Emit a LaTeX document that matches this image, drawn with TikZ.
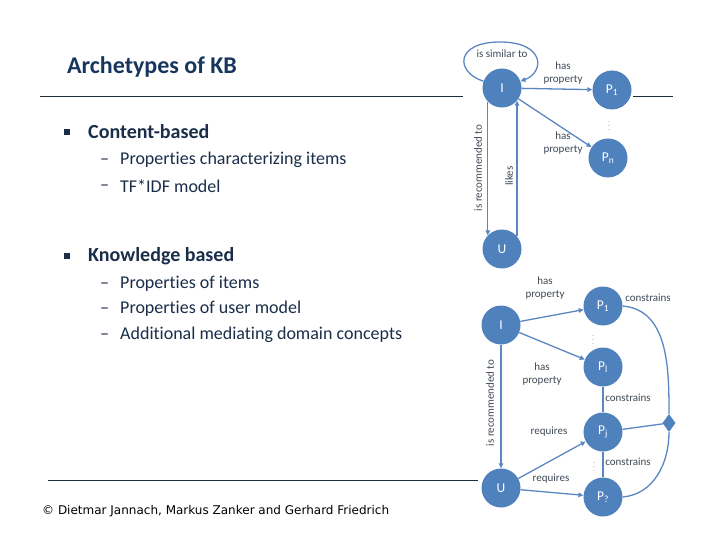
\documentclass[tikz,border=0pt]{standalone}
\usepackage{fontspec}
\setmainfont{Carlito}[Ligatures=NoCommon]
\newfontfamily\footfont{DejaVu Sans}
\usetikzlibrary{arrows.meta,positioning,shapes.geometric}
\definecolor{nodeblue}{HTML}{4F81BD}
\definecolor{edgeblue}{HTML}{5A87C2}
\definecolor{titlenavy}{HTML}{17365D}
\definecolor{textnavy}{HTML}{1A2E4A}
\definecolor{lblgray}{HTML}{404A58}
\definecolor{rulenavy}{HTML}{1F2D3D}
\tikzset{
  ent/.style={circle,fill=nodeblue,draw=none,minimum size=39pt,inner sep=0pt,text=white,font=\fontsize{13.5}{13.5}\selectfont},
  joint/.style={diamond,fill=nodeblue,minimum width=13pt,minimum height=18pt,inner sep=0pt},
  rel/.style={-{Triangle[length=5pt,width=4.5pt]},edgeblue,line width=1.3pt},
  cons/.style={edgeblue,line width=1.3pt},
  elbl/.style={text=lblgray,font=\fontsize{11}{13}\selectfont,align=center,inner sep=1pt},
  vlbl/.style={elbl,rotate=90},
  dotsym/.style={text=lblgray,font=\fontsize{6}{6}\selectfont,inner sep=0pt},
  headline/.style={anchor=west,text=titlenavy,font=\fontsize{24}{28}\selectfont\bfseries,inner sep=0pt},
  topic/.style={anchor=west,text=textnavy,font=\fontsize{20}{24}\selectfont\bfseries,inner sep=0pt},
  subitem/.style={anchor=west,text=textnavy,font=\fontsize{18}{21}\selectfont,inner sep=0pt},
  subdash/.style={subitem},
  sqbullet/.style={fill=textnavy,minimum size=5.5pt,inner sep=0pt},
  sliderule/.style={rulenavy,line width=0.8pt}
}
\begin{document}
\begin{tikzpicture}[x=1pt,y=-1pt]
  \useasboundingbox (0,0) rectangle (720,540);
  \fill[white] (0,0) rectangle (720,540);

  % Slide text
  \node[headline] (title) at (67,67) {Archetypes of KB};
  \draw[sliderule] (40,96) -- (463,96);
  \draw[sliderule] (633,96) -- (673,96);

  \node[sqbullet] (b1) at (67,132) {};
  \node[topic] (cb) at (88,132) {Content-based};
  \node[subdash] (d11) at (100,162) {–};
  \node[subitem] (s11) at (120,160) {Properties characterizing items};
  \node[subdash] (d12) at (100,188) {–};
  \node[subitem] (s12) at (120,186) {TF*IDF model};

  \node[sqbullet] (b2) at (67,256) {};
  \node[topic] (kb) at (88,256) {Knowledge based};
  \node[subdash] (d21) at (100,286) {–};
  \node[subitem] (s21) at (120,284) {Properties of items};
  \node[subdash] (d22) at (100,311) {–};
  \node[subitem] (s22) at (120,309) {Properties of user model};
  \node[subdash] (d23) at (100,337) {–};
  \node[subitem] (s23) at (120,335) {Additional mediating domain concepts};

  \draw[sliderule] (48,480) -- (478,480);
  \node[anchor=west,font=\footfont\fontsize{12}{14}\selectfont,inner sep=0pt] (foot) at (42,511) {© Dietmar Jannach, Markus Zanker and Gerhard Friedrich};

  % Content-based graph
  \node[ent] (I1) at (502,88) {I};
  \node[ent] (P11) at (612,90) {P\textsubscript{1}};
  \node[ent] (Pn) at (608,158) {P\textsubscript{n}};
  \node[ent] (U1) at (502,249) {U};
  \node[dotsym] (dt1) at (609,123) {$\vdots$};

  \draw[rel] (I1.160) .. controls (455,72) and (455,42) .. (500,42)
             .. controls (545,42) and (545,72) .. (I1.20);
  \node[elbl] (sim) at (502,54) {is similar to};
  \draw[rel] (I1) -- (P11);
  \node[elbl] (hp1) at (563,73) {has\\property};
  \draw[rel] (I1) -- (Pn);
  \node[elbl] (hp2) at (563,143) {has\\property};
  \draw[rel] (I1.224) -- (U1.136);
  \node[vlbl] (rec1) at (478,168) {is recommended to};
  \draw[rel] (U1.40) -- (I1.320);
  \node[vlbl] (lk) at (509,176) {likes};

  % Knowledge-based graph
  \node[ent] (I2) at (501,325) {I};
  \node[ent] (U2) at (501,488) {U};
  \node[ent] (P21) at (603,306) {P\textsubscript{1}};
  \node[ent] (Pl) at (603,367) {P\textsubscript{l}};
  \node[ent] (Pj) at (603,432) {P\textsubscript{j}};
  \node[ent] (Pq) at (603,497) {P\textsubscript{?}};
  \node[joint] (dia) at (669,423) {};
  \node[dotsym] (dt2) at (593,337) {$\vdots$};
  \node[dotsym] (dt3) at (594,464) {$\vdots$};

  \draw[rel] (I2) -- (P21);
  \node[elbl] (hp3) at (545,288) {has\\property};
  \draw[rel] (I2) -- (Pl);
  \node[elbl] (hp4) at (542,374) {has\\property};
  \draw[rel] (I2) -- (U2);
  \node[vlbl] (rec2) at (490,403) {is recommended to};
  \draw[rel] (U2) -- (Pj);
  \node[elbl] (rq1) at (549,432) {requires};
  \draw[rel] (U2) -- (Pq);
  \node[elbl] (rq2) at (551,479) {requires};

  \draw[cons] (Pl) -- (Pj);
  \node[elbl] (cs2) at (628,398) {constrains};
  \draw[cons] (Pj) -- (Pq);
  \node[elbl] (cs3) at (628,462) {constrains};
  \draw[cons] (Pj) -- (dia);
  \draw[cons] (P21.east) to[out=-5,in=90] (dia.north);
  \draw[cons] (Pq.east) to[out=5,in=-90] (dia.south);
  \node[elbl] (cs1) at (648,298) {constrains};
\end{tikzpicture}
\end{document}
